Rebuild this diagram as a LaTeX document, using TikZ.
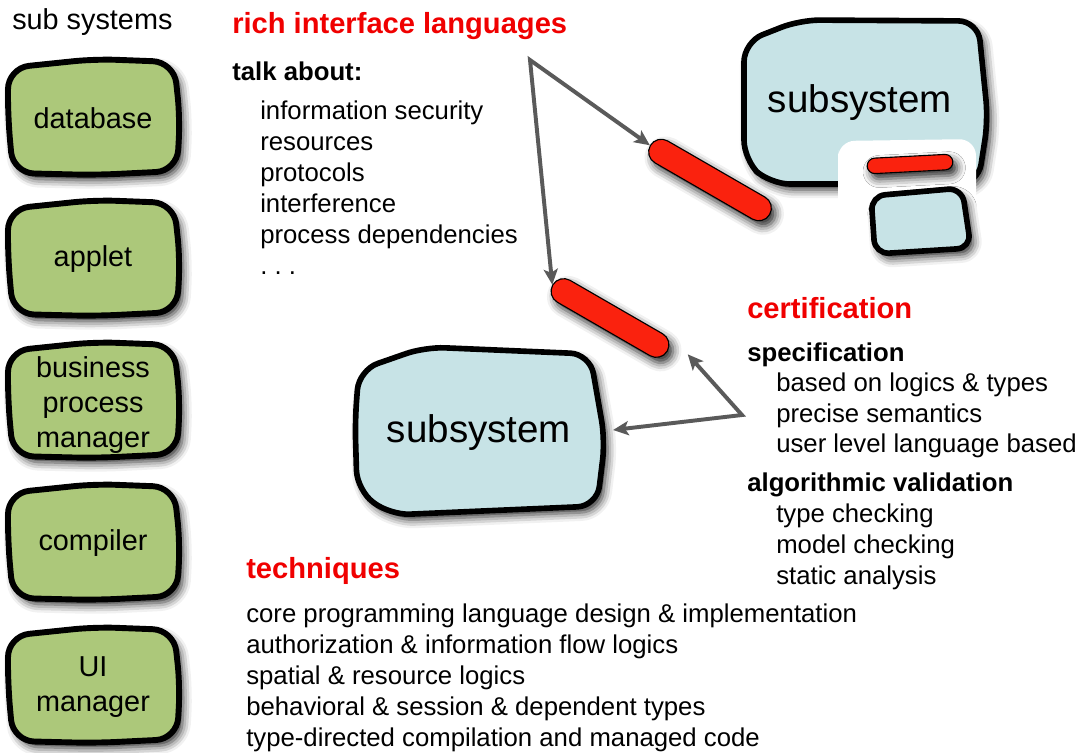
\documentclass[tikz,border=0pt]{standalone}
\usepackage{fontspec}
\setmainfont{Liberation Sans}
\usetikzlibrary{arrows.meta, shapes.misc, shadows.blur, positioning}

\definecolor{sysgreen}{RGB}{172,200,122}
\definecolor{sysblue}{RGB}{199,227,230}
\definecolor{barred}{RGB}{250,34,14}
\definecolor{headred}{RGB}{240,0,0}
\definecolor{arrowgray}{RGB}{90,90,90}

\tikzset{
  grayhead/.tip={Stealth[length=11pt, width=10pt, inset=2.5pt]},
  softshadow/.style={blur shadow={shadow xshift=3pt, shadow yshift=-4pt, shadow blur radius=6pt, shadow opacity=85}},
  sysbox/.style={draw=black, line width=4.2pt, fill=sysgreen, rounded corners=15pt, softshadow},
  blobbox/.style={draw=black, line width=4pt, fill=sysblue, rounded corners=14pt, softshadow},
  redbar/.style={rounded rectangle, draw=black, line width=0.8pt, fill=barred, minimum height=18pt, inner sep=0pt, softshadow},
  arrowline/.style={draw=arrowgray, line width=2.8pt, -grayhead},
  heading/.style={anchor=base west, inner sep=0pt, text=headred, font=\fontsize{20.7}{24}\selectfont\bfseries},
  subhead/.style={anchor=base west, inner sep=0pt, font=\fontsize{18.3}{22}\selectfont\bfseries},
  item/.style={anchor=base west, inner sep=0pt, font=\fontsize{18.3}{22}\selectfont},
  boxlabel/.style={align=center, inner sep=0pt, font=\fontsize{20.5}{24.8}\selectfont},
  bigtext/.style={inner sep=0pt, font=\fontsize{27.4}{32}\selectfont}
}

% one hand drawn sub system box on the left, centred at height #1
\newcommand{\greenbox}[1]{%
  \draw[sysbox] (8,{#1-50}) -- (95,{#1-59}) -- (174,{#1-56}) -- (180,{#1}) -- (177,{#1+53})
    -- (95,{#1+57}) -- (13,{#1+55}) -- (8,{#1}) -- cycle;}

\begin{document}
\begin{tikzpicture}[x=0.025cm, y=-0.025cm]
  \useasboundingbox (0,0) rectangle (1085,752);

  % left column
  \node[anchor=base west, inner sep=0pt, font=\fontsize{20.5}{24}\selectfont] (subsys) at (12,29) {sub systems};
  \foreach \cy in {118,259,401,543,686} {\greenbox{\cy}}
  \node[boxlabel] (db) at (93,118) {database};
  \node[boxlabel] (applet) at (93,259) {applet};
  \node[boxlabel] (bpm) at (93,405) {business\\process\\manager};
  \node[boxlabel] (comp) at (93,543) {compiler};
  \node[boxlabel] (uim) at (93,687) {UI\\manager};

  % upper subsystem with its notch
  \draw[blobbox] (744,42) -- (800,20) -- (978,21) -- (988,120) -- (978,184) -- (770,184) -- (744,160) -- cycle;
  \fill[white] (838,215) -- (838,150) [rounded corners=12pt] -- (838,141) -- (976,139) [sharp corners] -- (976,215) -- cycle;
  \draw[blobbox, rounded corners=10pt] (871,196) -- (962,188) -- (971,248) -- (875,254) -- cycle;
  \node[redbar, minimum width=61pt, minimum height=11pt, rotate=3] (bar3) at (910,164) {};
  \node[bigtext] (upsys) at (860,103) {subsystem};

  % lower subsystem
  \draw[blobbox] (359,370) -- (425,347) -- (590,354) -- (605,440) -- (597,506) -- (390,515)
    -- (357,490) -- (355,420) -- cycle;
  \node[bigtext, minimum width=176pt, minimum height=118pt] (lowsys) at (479,433) {subsystem};

  % interfaces
  \node[redbar, minimum width=98pt, rotate=-30] (bar1) at (710,180) {};
  \node[redbar, minimum width=94pt, rotate=-30] (bar2) at (610,318) {};

  \coordinate (forkA) at (530,60);
  \coordinate (forkB) at (742,415);
  \draw[arrowline, grayhead-grayhead] (bar1.west) -- (forkA) -- (bar2.west);
  \draw[arrowline, grayhead-grayhead] ([shift={(20,3)}]bar2.east) -- (forkB) -- ([shift={(10,-3)}]lowsys.east);

  % rich interface languages
  \node[heading] (rich) at (232,33) {rich interface languages};
  \node[subhead] (talk) at (232,80) {talk about:};
  \foreach \entry [count=\i] in {information security, resources, protocols, interference, process dependencies, .~.~.}
    \node[item] (talk-\i) at (260,{88+31*\i}) {\entry};

  % certification
  \node[heading] (cert) at (747,318) {certification};
  \node[subhead] (spec) at (747,361) {specification};
  \foreach \entry [count=\i] in {based on logics \& types, precise semantics, user level language based}
    \node[item] (spec-\i) at (776,{361+30.5*\i}) {\entry};
  \node[subhead] (algo) at (747,491) {algorithmic validation};
  \foreach \entry [count=\i] in {type checking, model checking, static analysis}
    \node[item] (algo-\i) at (776,{491+31*\i}) {\entry};

  % techniques
  \node[heading] (tech) at (246,578) {techniques};
  \foreach \entry [count=\i] in {core programming language design \& implementation, authorization \& information flow logics,
      spatial \& resource logics, behavioral \& session \& dependent types, type-directed compilation and managed code}
    \node[item] (tech-\i) at (246,{591+31*\i}) {\entry};
\end{tikzpicture}
\end{document}
